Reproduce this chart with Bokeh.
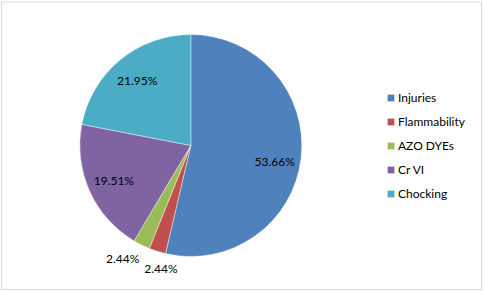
import math
from bokeh.plotting import figure
from bokeh.models import ColumnDataSource, Range1d, BoxAnnotation, Legend, LegendItem
from bokeh.core.properties import value
from bokeh.embed import file_html
from bokeh.resources import INLINE

categories = ["Injuries", "Flammability", "AZO DYEs", "Cr VI", "Chocking"]
counts = [22, 1, 1, 8, 9]
colors = ["#4F81BD", "#C0504D", "#9BBB59", "#8064A2", "#4BACC6"]

W, H = 483, 291
cx, cy, r = 190.3, 146.0, 111.0
# screen-pixel nudges for label placement (style only)
label_nudge = {"AZO DYEs": (-11, 2), "Flammability": (9, 0), "Injuries": (0, -6)}

total = float(sum(counts))
starts, ends, lx, ly, labels = [], [], [], [], []
cum = 0.0
for cat, c in zip(categories, counts):
    f0 = cum / total
    cum += c
    f1 = cum / total
    a0 = math.pi / 2 - 2 * math.pi * f0
    a1 = math.pi / 2 - 2 * math.pi * f1
    starts.append(a0)
    ends.append(a1)
    mid = (a0 + a1) / 2
    frac = c / total
    rr = r * (0.76 if frac > 0.05 else 1.16)
    nx, ny = label_nudge.get(cat, (0, 0))
    lx.append(cx + rr * math.cos(mid) + nx)
    ly.append(cy + rr * math.sin(mid) + ny)
    labels.append(f"{frac * 100:.2f}%")

src = ColumnDataSource(dict(cat=categories, start=starts, end=ends, color=colors,
                            lx=lx, ly=ly, label=labels))

p = figure(width=W, height=H, x_range=Range1d(0, W), y_range=Range1d(0, H),
           x_axis_location=None, y_axis_location=None, toolbar_location=None,
           output_backend="svg", min_border=0, outline_line_color=None,
           background_fill_color="white", border_fill_color="white")
p.grid.visible = False

wr = p.wedge(x=cx, y=cy, radius=r, start_angle="start", end_angle="end",
             direction="clock", fill_color="color", line_color="white",
             line_width=0.6, line_alpha=0.7, source=src)

p.text(x="lx", y="ly", text="label", source=src, text_align="center",
       text_baseline="middle", text_font=value("Lato"), text_font_size="12px",
       text_color="#000000")

items = [LegendItem(label=categories[i], renderers=[wr], index=i) for i in range(len(categories))]
legend = Legend(items=items, location=(386, 88), orientation="vertical",
                glyph_width=9, glyph_height=9, label_height=20, spacing=4,
                label_standoff=3, padding=0, margin=0, border_line_color=None,
                background_fill_alpha=0, label_text_font="Lato",
                label_text_font_size="12px", label_text_color="#000000")
p.add_layout(legend, "center")

p.add_layout(BoxAnnotation(left=1, right=481, bottom=2, top=289.5, fill_alpha=0,
                           line_color="#868686", line_width=1))

open("out.html", "w").write(file_html(p, INLINE))
